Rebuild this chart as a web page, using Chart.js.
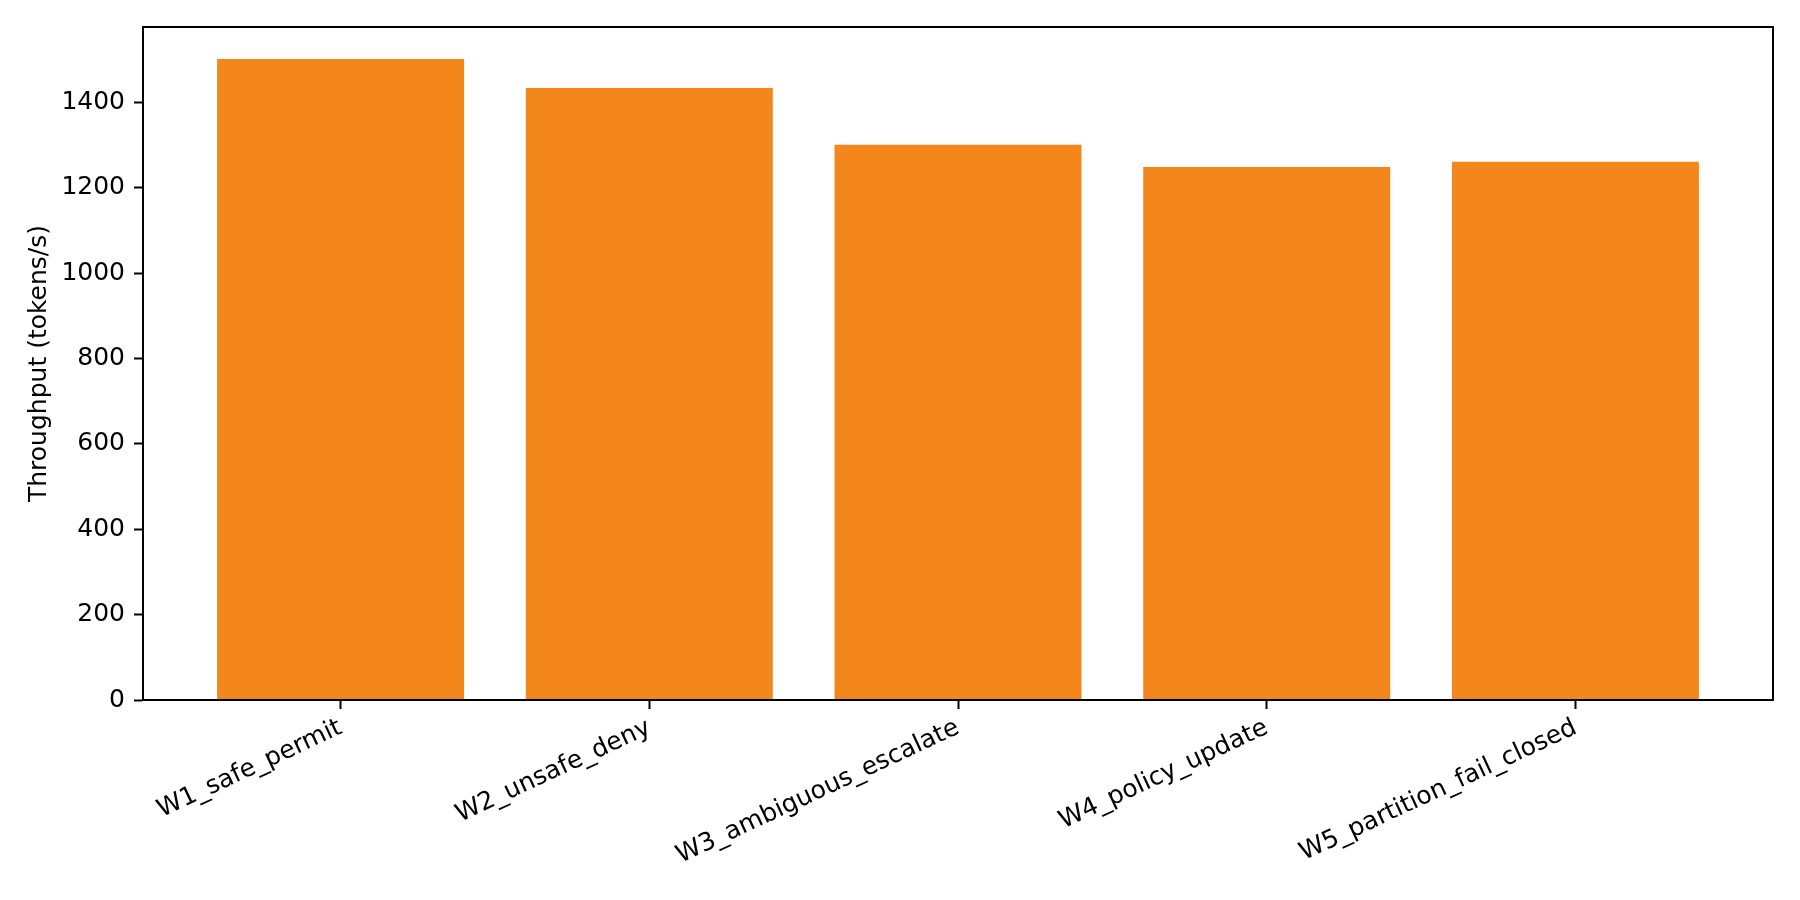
<!DOCTYPE html>
<html>
<head>
<meta charset="utf-8">
<title>Throughput</title>
<script src="https://cdn.jsdelivr.net/npm/chart.js@4/dist/chart.umd.min.js"></script>
<style>
  html, body { margin: 0; padding: 0; background: #fff; }
  #wrap { width: 1800px; height: 900px; }
</style>
</head>
<body>
<div id="wrap"><canvas id="throughputChart" width="1800" height="900"></canvas></div>
<script>
const workloads = ['W1_safe_permit', 'W2_unsafe_deny', 'W3_ambiguous_escalate', 'W4_policy_update', 'W5_partition_fail_closed'];
const throughput = [1502, 1434, 1301, 1249, 1261];
const yTicks = [0, 200, 400, 600, 800, 1000, 1200, 1400];

const FONT = { family: "'DejaVu Sans', sans-serif", size: 25 };

// frame around the plot area (top and right spines)
const frame = {
    id: 'frame',
    afterDraw(chart) {
        const a = chart.chartArea;
        const ctx = chart.ctx;
        ctx.save();
        ctx.strokeStyle = '#000';
        ctx.lineWidth = 2;
        ctx.strokeRect(a.left, a.top, a.right - a.left, a.bottom - a.top);
        ctx.restore();
    }
};

const ctx = document.getElementById('throughputChart').getContext('2d');

new Chart(ctx, {
    type: 'bar',
    data: {
        datasets: [{
            label: 'Throughput (tokens/s)',
            data: throughput.map((v, i) => ({ x: i, y: v })),
            backgroundColor: '#f3871b',
            borderWidth: 0,
            barPercentage: 0.8,
            categoryPercentage: 1.0
        }]
    },
    options: {
        responsive: false,
        animation: false,
        devicePixelRatio: 1,
        layout: { padding: { top: 27, right: 27, bottom: 0, left: 0 } },
        plugins: {
            legend: { display: false },
            tooltip: { enabled: false }
        },
        scales: {
            x: {
                type: 'linear',
                offset: false,
                min: -0.64,
                max: 4.64,
                afterBuildTicks: (axis) => { axis.ticks = workloads.map((w, i) => ({ value: i })); },
                afterFit: (axis) => { axis.height = 200; },
                grid: { display: true, drawOnChartArea: false, offset: false, tickLength: 9, tickWidth: 2, color: '#000' },
                border: { display: true, color: '#000', width: 2 },
                ticks: {
                    color: '#000',
                    font: FONT,
                    padding: 4,
                    minRotation: 25,
                    maxRotation: 25,
                    autoSkip: false,
                    callback: (v) => workloads[v]
                }
            },
            y: {
                min: 0,
                max: 1577,
                afterBuildTicks: (axis) => { axis.ticks = yTicks.map(v => ({ value: v })); },
                afterFit: (axis) => { axis.width = 143; },
                grid: { display: true, drawOnChartArea: false, tickLength: 9, tickWidth: 2, color: '#000' },
                border: { display: true, color: '#000', width: 2 },
                ticks: { color: '#000', font: FONT, padding: 9, callback: (v) => String(v) },
                title: {
                    display: true,
                    text: 'Throughput (tokens/s)',
                    color: '#000',
                    font: FONT,
                    padding: { top: 24, bottom: 0 }
                }
            }
        }
    },
    plugins: [frame]
});
</script>
</body>
</html>
